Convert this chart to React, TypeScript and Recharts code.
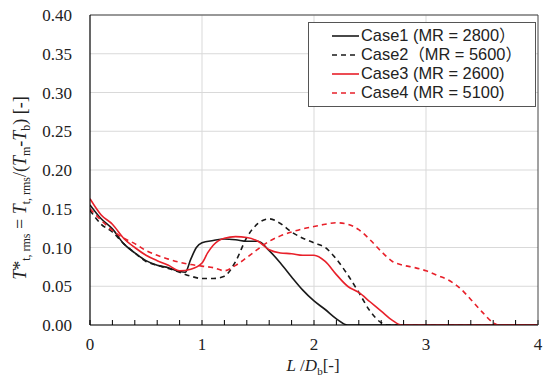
import { LineChart, Line, XAxis, YAxis, CartesianGrid, Legend, Label } from "recharts";

// values (x = L/Db, y = T*t,rms)
const case1X = [0, 0.1, 0.2, 0.3, 0.4, 0.5, 0.6, 0.7, 0.8, 0.85, 0.9, 0.95, 1.0, 1.1, 1.2, 1.3, 1.4, 1.5, 1.6, 1.7, 1.8, 1.9, 2.0, 2.1, 2.2, 2.3, 4.0];
const case1Y = [0.155, 0.137, 0.124, 0.105, 0.093, 0.083, 0.077, 0.074, 0.069, 0.068, 0.085, 0.1, 0.106, 0.109, 0.111, 0.11, 0.108, 0.108, 0.096, 0.08, 0.062, 0.045, 0.031, 0.02, 0.008, 0, 0];

const case2X = [0, 0.1, 0.2, 0.3, 0.4, 0.5, 0.6, 0.7, 0.8, 0.9, 1.0, 1.1, 1.2, 1.3, 1.4, 1.5, 1.6, 1.7, 1.8, 1.9, 2.0, 2.1, 2.2, 2.3, 2.4, 2.5, 2.6, 2.65, 4.0];
const case2Y = [0.148, 0.13, 0.12, 0.105, 0.093, 0.082, 0.077, 0.073, 0.068, 0.063, 0.06, 0.06, 0.063, 0.082, 0.113, 0.131, 0.137, 0.131, 0.12, 0.112, 0.106, 0.1, 0.085, 0.065, 0.042, 0.018, 0.003, 0, 0];

const case3X = [0, 0.1, 0.2, 0.3, 0.4, 0.5, 0.6, 0.7, 0.8, 0.9, 1.0, 1.05, 1.1, 1.2, 1.3, 1.4, 1.5, 1.6, 1.7, 1.8, 1.9, 2.0, 2.1, 2.2, 2.3, 2.4, 2.5, 2.6, 2.7, 2.78, 4.0];
const case3Y = [0.163, 0.142, 0.13, 0.112, 0.1, 0.09, 0.083, 0.077, 0.07, 0.072, 0.08, 0.093, 0.103, 0.112, 0.114, 0.113, 0.108, 0.097, 0.093, 0.092, 0.09, 0.09, 0.082, 0.065, 0.05, 0.042, 0.03, 0.018, 0.006, 0, 0];

const case4X = [0, 0.1, 0.2, 0.3, 0.4, 0.5, 0.6, 0.7, 0.8, 0.9, 1.0, 1.1, 1.2, 1.3, 1.4, 1.5, 1.6, 1.7, 1.8, 1.9, 2.0, 2.1, 2.2, 2.3, 2.4, 2.5, 2.6, 2.7, 2.8, 2.9, 3.0, 3.1, 3.2, 3.3, 3.4, 3.5, 3.6, 3.65, 4.0];
const case4Y = [0.15, 0.135, 0.122, 0.112, 0.105, 0.096, 0.09, 0.085, 0.081, 0.078, 0.076, 0.074, 0.07, 0.077, 0.087, 0.098, 0.108, 0.115, 0.12, 0.124, 0.127, 0.13, 0.132, 0.13, 0.123, 0.11, 0.095, 0.082, 0.077, 0.074, 0.07, 0.064, 0.058, 0.048, 0.033, 0.017, 0.003, 0, 0];

const caseNames = ["Case1 (MR = 2800）", "Case2（MR = 5600）", "Case3 (MR = 2600)", "Case4 (MR = 5100)"];
const caseColors = ["#1a1a1a", "#1a1a1a", "#e8202a", "#e8202a"];
const caseDashes = ["", "5 4", "", "5 4"];

// ticks every 0.2, labels only on whole numbers
const xTicks = [0, 0.2, 0.4, 0.6, 0.8, 1, 1.2, 1.4, 1.6, 1.8, 2, 2.2, 2.4, 2.6, 2.8, 3, 3.2, 3.4, 3.6, 3.8, 4];
const yTicks = [0, 0.05, 0.1, 0.15, 0.2, 0.25, 0.3, 0.35, 0.4];

const toPoints = (xs: number[], ys: number[]) => xs.map((x, i) => ({ x, y: ys[i] }));
const series = [toPoints(case1X, case1Y), toPoints(case2X, case2Y), toPoints(case3X, case3Y), toPoints(case4X, case4Y)];

const serif = "'Liberation Serif', 'Times New Roman', serif";
const sans = "'Liberation Sans', Arial, 'Noto Sans CJK JP', sans-serif";

function XTick(props: any) {
  const { x, y, payload } = props;
  if (!Number.isInteger(payload.value)) return <g />;
  return (
    <text x={x} y={y} dy="0.71em" textAnchor="middle" fontFamily={serif} fontSize={17} fill="#222">
      {payload.value}
    </text>
  );
}

function YTitle() {
  return (
    <text transform="translate(26,188) rotate(-90)" textAnchor="middle" fontFamily={serif} fontSize={18} fill="#222">
      <tspan fontStyle="italic">T</tspan>
      <tspan>*</tspan>
      <tspan fontSize={12} dy={4}>t, rms</tspan>
      <tspan dy={-4}> = </tspan>
      <tspan fontStyle="italic">T</tspan>
      <tspan fontSize={12} dy={4}>t, rms</tspan>
      <tspan dy={-4}>/(</tspan>
      <tspan fontStyle="italic">T</tspan>
      <tspan fontSize={12} dy={4}>m</tspan>
      <tspan dy={-4}>-</tspan>
      <tspan fontStyle="italic">T</tspan>
      <tspan fontSize={12} dy={4}>b</tspan>
      <tspan dy={-4}>) [-]</tspan>
    </text>
  );
}

function XTitle() {
  return (
    <text x={313} y={371} textAnchor="middle" fontFamily={serif} fontSize={17} fill="#222">
      <tspan fontStyle="italic">L</tspan>
      <tspan> /</tspan>
      <tspan fontStyle="italic">D</tspan>
      <tspan fontSize={11} dy={4}>b</tspan>
      <tspan dy={-4}>[-]</tspan>
    </text>
  );
}

function LegendBox() {
  return (
    <div style={{ border: "1px solid #555", background: "#fff", padding: "3px 0 4px 0", boxSizing: "border-box" }}>
      {caseNames.map((name, i) => (
        <div key={name} style={{ display: "flex", alignItems: "center", height: 19, paddingLeft: 23 }}>
          <svg width={27} height={10} style={{ marginRight: 2 }}>
            <line x1={0} y1={5} x2={27} y2={5} stroke={caseColors[i]} strokeWidth={1.6} strokeDasharray={caseDashes[i] || undefined} />
          </svg>
          <span style={{ fontFamily: sans, fontSize: 16.4, lineHeight: "19px", color: "#222", whiteSpace: "nowrap" }}>{name}</span>
        </div>
      ))}
    </div>
  );
}

export default function App() {
  return (
    <div style={{ position: "absolute", left: 0, top: 0, background: "#fff" }}>
      <LineChart width={551} height={381} margin={{ top: 15, right: 13, left: 0, bottom: 0 }}>
        <CartesianGrid stroke="#d9d9d9" strokeWidth={1} verticalValues={[1, 2, 3]} />
        <XAxis
          dataKey="x"
          type="number"
          domain={[0, 4]}
          ticks={xTicks}
          interval={0}
          height={56}
          tickSize={-5}
          tickMargin={18}
          tickLine={{ stroke: "#000" }}
          axisLine={{ stroke: "#000", strokeWidth: 1.2 }}
          tick={XTick}
          allowDataOverflow
        >
          <Label content={<XTitle />} />
        </XAxis>
        <XAxis xAxisId="top" orientation="top" type="number" domain={[0, 4]} mirror tick={false} tickLine={false} axisLine={{ stroke: "#444" }} allowDataOverflow />
        <YAxis
          type="number"
          domain={[0, 0.4]}
          ticks={yTicks}
          width={90}
          tickLine={false}
          tickSize={0}
          tickMargin={18}
          tickFormatter={(v: number) => v.toFixed(2)}
          axisLine={{ stroke: "#000", strokeWidth: 1.2 }}
          tick={{ fontFamily: serif, fontSize: 17, fill: "#222" }}
          allowDataOverflow
        >
          <Label content={<YTitle />} />
        </YAxis>
        <YAxis yAxisId="right" orientation="right" type="number" domain={[0, 0.4]} mirror tick={false} tickLine={false} axisLine={{ stroke: "#444" }} allowDataOverflow />
        <Legend
          layout="vertical"
          align="center"
          verticalAlign="middle"
          wrapperStyle={{ left: 308, top: 22, width: 228 }}
          content={<LegendBox />}
        />
        {series.map((pts, i) => (
          <Line
            key={caseNames[i]}
            data={pts}
            dataKey="y"
            name={caseNames[i]}
            type="monotone"
            stroke={caseColors[i]}
            strokeWidth={1.6}
            strokeDasharray={caseDashes[i] || undefined}
            dot={false}
            activeDot={false}
            isAnimationActive={false}
          />
        ))}
      </LineChart>
    </div>
  );
}
